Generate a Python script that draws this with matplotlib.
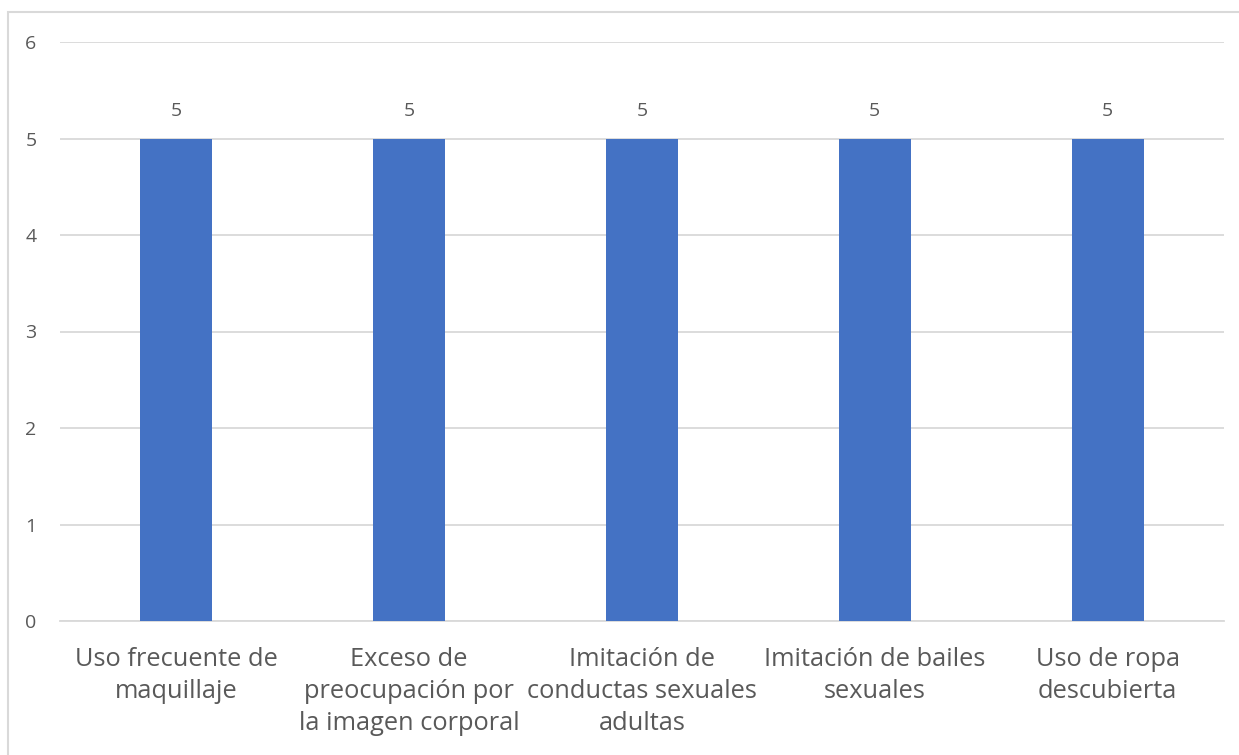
import matplotlib.pyplot as plt
from matplotlib.patches import Rectangle

# Datos
categorias = [
    'Uso frecuente de\nmaquillaje',
    'Exceso de\npreocupación por\nla imagen corporal',
    'Imitación de\nconductas sexuales\nadultas',
    'Imitación de bailes\nsexuales',
    'Uso de ropa\ndescubierta',
]
valores = [5, 5, 5, 5, 5]
ticks_y = [0, 1, 2, 3, 4, 5, 6]

gris_texto = '#595959'
gris_linea = '#d9d9d9'
azul = '#4472C4'

fig = plt.figure(figsize=(12.39, 7.55), dpi=100)
fig.patches.append(Rectangle((8 / 1239, -0.1), 1.2, 1 - 12 / 755 + 0.1,
                             transform=fig.transFigure, fill=False,
                             edgecolor=gris_linea, linewidth=1.5))
ax = fig.add_axes([60 / 1239, 1 - 621 / 755, 1164 / 1239, 579 / 755])

x = range(len(categorias))
barras = ax.bar(x, valores, width=0.31, color=azul, zorder=3)
ax.bar_label(barras, labels=[str(v) for v in valores], padding=13,
             fontsize=14, color=gris_texto, family='Open Sans')

ax.set_xlim(-0.5, len(categorias) - 0.5)
ax.set_ylim(0, 6)
ax.set_yticks(ticks_y)
ax.set_xticks(list(x))
ax.set_xticklabels(categorias, fontsize=18.3, color=gris_texto,
                   family='Open Sans', linespacing=1.36)
for lbl in ax.get_yticklabels():
    lbl.set_fontsize(14)
    lbl.set_color(gris_texto)
    lbl.set_family('Open Sans')

ax.grid(axis='y', color=gris_linea, linewidth=1.3, zorder=0)
ax.tick_params(axis='both', length=0)
ax.tick_params(axis='y', pad=17)
ax.tick_params(axis='x', pad=19)
for lado in ['top', 'right', 'left']:
    ax.spines[lado].set_visible(False)
ax.spines['bottom'].set_color(gris_linea)
ax.spines['bottom'].set_linewidth(1.3)

plt.savefig('out.png', dpi=100)
